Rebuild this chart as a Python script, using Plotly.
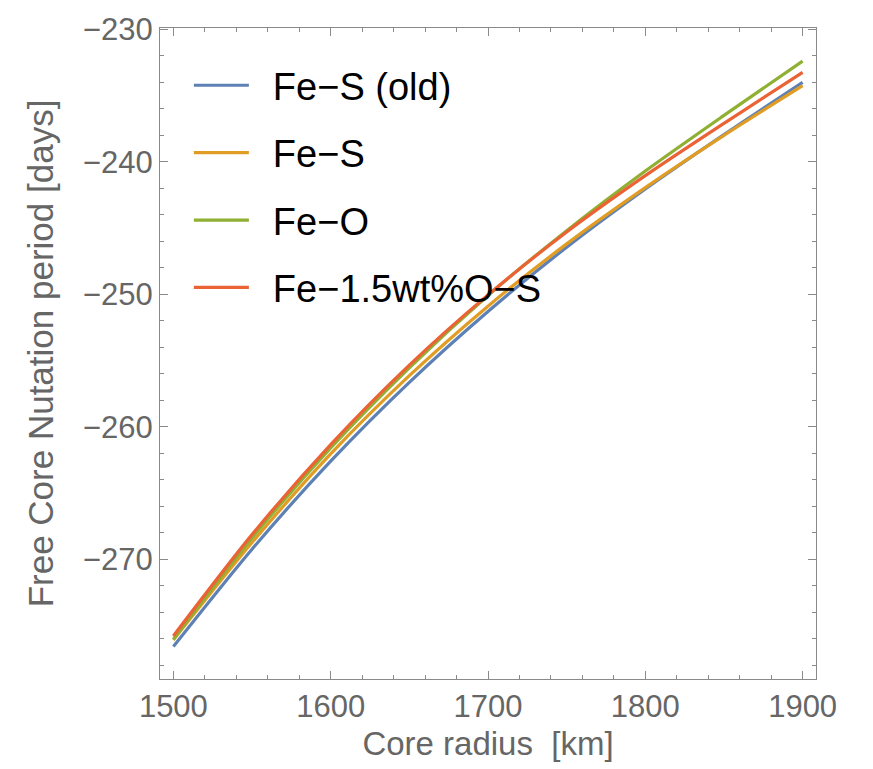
import plotly.graph_objects as go

# Core radius grid [km]
radius_km = [1500, 1550, 1600, 1650, 1700, 1750, 1800, 1850, 1900]

# Free Core Nutation period [days] for each core composition model
fcn_fes_old = [-276.6, -269.25, -262.6, -256.65, -251.3, -246.45, -242.05, -237.95, -234.0]
fcn_fes = [-276.1, -268.75, -262.05, -256.15, -250.9, -246.2, -241.95, -238.0, -234.25]
fcn_feo = [-276.05, -268.4, -261.6, -255.55, -250.1, -245.2, -240.7, -236.5, -232.4]
fcn_feos = [-275.8, -268.15, -261.35, -255.35, -250.05, -245.3, -241.05, -237.1, -233.25]

series_names = ["Fe\u2212S (old)", "Fe\u2212S", "Fe\u2212O", "Fe\u22121.5wt%O\u2212S"]
series_values = [fcn_fes_old, fcn_fes, fcn_feo, fcn_feos]
series_colors = ["#5E81B5", "#E19C24", "#8FB032", "#EB6235"]

x_ticks = [1500, 1600, 1700, 1800, 1900]
y_ticks = [-230, -240, -250, -260, -270]

FONT = "Liberation Sans, Arial, Helvetica, sans-serif"
AXIS_GREY = "#8a8a8a"
LABEL_GREY = "#666666"

fig = go.Figure()
for i, (name, vals, col) in enumerate(zip(series_names, series_values, series_colors)):
    fig.add_trace(go.Scatter(
        x=radius_km, y=vals, name="\u2002" + name, mode="lines",
        line=dict(color=col, width=3.2, shape="spline", smoothing=0.8),
        legendgroup=f"g{i}",
    ))

axis_common = dict(
    showline=True, linecolor=AXIS_GREY, linewidth=1.3,
    mirror="allticks", ticks="inside", ticklen=8, tickwidth=1.2,
    tickcolor=AXIS_GREY, showgrid=False, zeroline=False,
    tickfont=dict(family=FONT, size=31, color=LABEL_GREY),
)

fig.update_xaxes(
    range=[1491.5, 1908.5], tickvals=x_ticks,
    minor=dict(dtick=20, ticks="inside", ticklen=4, tickcolor=AXIS_GREY, tickwidth=1),
    title=dict(text="Core radius\u00a0 [km]", standoff=8,
               font=dict(family=FONT, size=33, color=LABEL_GREY)),
    **axis_common,
)
fig.update_yaxes(
    range=[-279.05, -229.9], tickvals=y_ticks,
    minor=dict(dtick=2, ticks="inside", ticklen=4, tickcolor=AXIS_GREY, tickwidth=1),
    title=dict(text="Free Core Nutation period [days]", standoff=18,
               font=dict(family=FONT, size=35, color=LABEL_GREY)),
    **axis_common,
)

fig.update_layout(
    width=873, height=769,
    margin=dict(l=160, r=57, t=24, b=90),
    paper_bgcolor="white", plot_bgcolor="white",
    showlegend=True,
    legend=dict(
        x=0.044, y=0.96, xanchor="left", yanchor="top",
        bgcolor="rgba(0,0,0,0)", borderwidth=0,
        font=dict(family=FONT, size=38, color="black"),
        itemwidth=55, tracegroupgap=15,
    ),
)

fig.write_html("out.html")
